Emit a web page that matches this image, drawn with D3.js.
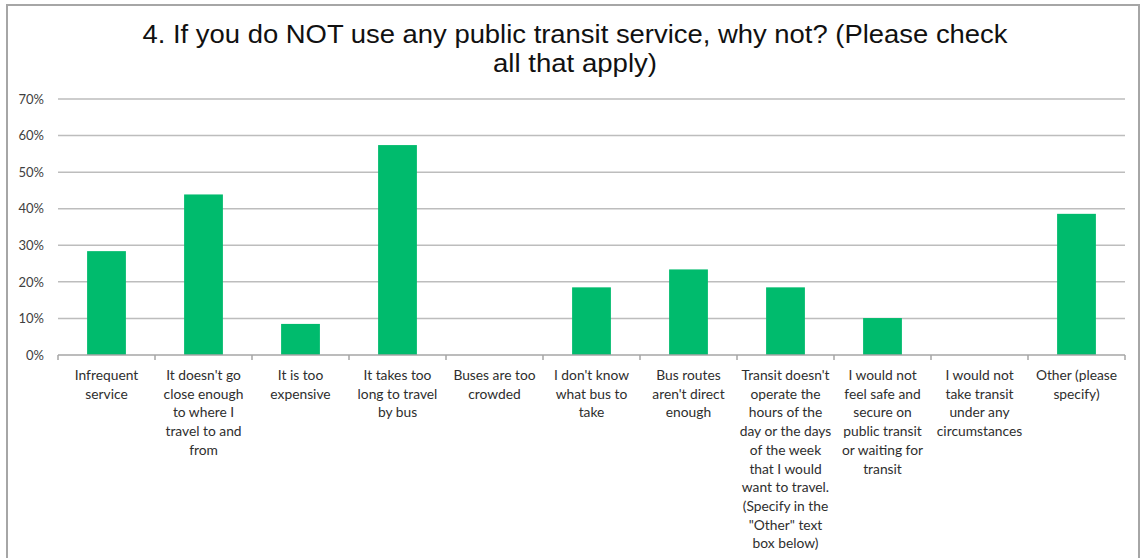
<!DOCTYPE html>
<html>
<head>
<meta charset="utf-8">
<script src="https://d3js.org/d3.v7.min.js"></script>
<style>
  body { margin: 0; background: #fff; }
  svg { display: block; }
</style>
</head>
<body>
<div id="chart"></div>
<script>
var svgWidth = 1141;
var svgHeight = 558;

// chart data
var titleLines = ["4. If you do NOT use any public transit service, why not? (Please check", "all that apply)"];
var titleWidths = [865, 164];

var categories = [
  "Infrequent\nservice",
  "It doesn't go\nclose enough\nto where I\ntravel to and\nfrom",
  "It is too\nexpensive",
  "It takes too\nlong to travel\nby bus",
  "Buses are too\ncrowded",
  "I don't know\nwhat bus to\ntake",
  "Bus routes\naren't direct\nenough",
  "Transit doesn't\noperate the\nhours of the\nday or the days\nof the week\nthat I would\nwant to travel.\n(Specify in the\n\"Other\" text\nbox below)",
  "I would not\nfeel safe and\nsecure on\npublic transit\nor waiting for\ntransit",
  "I would not\ntake transit\nunder any\ncircumstances",
  "Other (please\nspecify)"
];

var percents = [28.4, 43.9, 8.5, 57.4, 0, 18.5, 23.4, 18.5, 10.1, 0, 38.6];

var yTicks = [0, 10, 20, 30, 40, 50, 60, 70];

var margin = { top: 99, right: 16, bottom: 203, left: 58 };
var width = svgWidth - margin.left - margin.right;
var height = svgHeight - margin.top - margin.bottom;

var svg = d3.select("#chart")
  .append("svg")
  .attr("width", svgWidth)
  .attr("height", svgHeight);

// outer frame
svg.append("rect")
  .attr("x", 7)
  .attr("y", 5)
  .attr("width", 1132)
  .attr("height", 600)
  .attr("fill", "#fff")
  .attr("stroke", "#a6a6a6")
  .attr("stroke-width", 2);

// title
svg.append("g")
  .selectAll("text")
  .data(titleLines)
  .enter()
  .append("text")
  .attr("x", 575)
  .attr("y", (d, i) => 43 + i * 29)
  .attr("text-anchor", "middle")
  .attr("textLength", (d, i) => titleWidths[i])
  .attr("lengthAdjust", "spacingAndGlyphs")
  .style("font-family", "'Liberation Sans', Arial, sans-serif")
  .style("font-size", "25px")
  .attr("fill", "#111")
  .text(d => d);

var chartGroup = svg.append("g")
  .attr("transform", `translate(${margin.left}, ${margin.top})`);

var xScale = d3.scaleBand()
  .domain(categories)
  .range([0, width])
  .paddingInner(0.6)
  .paddingOuter(0.3);

var yScale = d3.scaleLinear()
  .domain([0, 70])
  .range([height, 0]);

// gridlines
chartGroup.append("g")
  .selectAll("line")
  .data(yTicks.slice(1))
  .enter()
  .append("line")
  .attr("x1", 0)
  .attr("x2", width)
  .attr("y1", d => yScale(d))
  .attr("y2", d => yScale(d))
  .attr("stroke", "#bdbdbd")
  .attr("stroke-width", 1.5);

// y axis labels
var leftAxis = d3.axisLeft(yScale)
  .tickValues(yTicks)
  .tickFormat(d => d + "%")
  .tickSize(0)
  .tickPadding(14);

var yAxis = chartGroup.append("g").call(leftAxis);
yAxis.select(".domain").remove();
yAxis.selectAll("text")
  .style("font-family", "Lato, 'Open Sans', sans-serif")
  .style("font-size", "13px")
  .attr("fill", "#404040");

// bars
chartGroup.selectAll("rect.bar")
  .data(percents)
  .enter()
  .append("rect")
  .attr("class", "bar")
  .attr("x", (d, i) => xScale(categories[i]))
  .attr("y", d => yScale(d))
  .attr("width", xScale.bandwidth())
  .attr("height", d => height - yScale(d))
  .attr("fill", "#00bb6d");

// x axis baseline with ticks between categories
var step = xScale.step();
var xAxisGroup = chartGroup.append("g")
  .attr("transform", `translate(0, ${height})`);

xAxisGroup.append("line")
  .attr("x1", 0)
  .attr("x2", width)
  .attr("stroke", "#a6a6a6")
  .attr("stroke-width", 1.5);

xAxisGroup.selectAll("line.tick")
  .data(d3.range(categories.length + 1))
  .enter()
  .append("line")
  .attr("class", "tick")
  .attr("x1", i => i * step)
  .attr("x2", i => i * step)
  .attr("y1", 0)
  .attr("y2", 5)
  .attr("stroke", "#a6a6a6")
  .attr("stroke-width", 1.5);

// category labels
var labels = xAxisGroup.selectAll("text.cat")
  .data(categories)
  .enter()
  .append("text")
  .attr("class", "cat")
  .attr("text-anchor", "middle")
  .attr("x", d => xScale(d) + xScale.bandwidth() / 2)
  .attr("y", 25)
  .style("font-family", "Lato, 'Open Sans', sans-serif")
  .style("font-size", "13.8px")
  .attr("fill", "#2e2e2e");

labels.each(function(d) {
  var el = d3.select(this);
  var x = el.attr("x");
  d.split("\n").forEach(function(line, i) {
    el.append("tspan")
      .attr("x", x)
      .attr("dy", i === 0 ? 0 : 18.7)
      .text(line);
  });
});
</script>
</body>
</html>
